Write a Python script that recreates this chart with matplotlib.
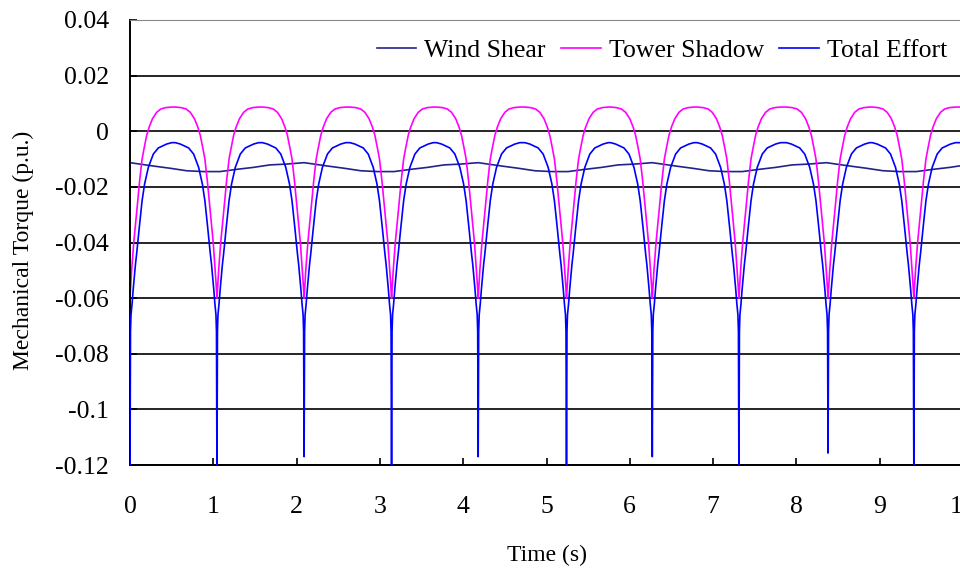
import numpy as np
import matplotlib
matplotlib.use('Agg')
import matplotlib.pyplot as plt

plt.rcParams['font.family'] = ['Liberation Serif', 'DejaVu Serif']

# times of the blade-passing dips (s)
dip_times = [0.0, 1.044, 2.09, 3.14, 4.18, 5.24, 6.27, 7.31, 8.38, 9.41]
# lowest value of the Total Effort spike at each dip
spike_depth = [-0.125, -0.125, -0.117, -0.125, -0.117, -0.125, -0.117, -0.125, -0.1157, -0.125]

# tower shadow: value vs distance from the dip (s)
shadow_off = [0.0, 0.01, 0.02, 0.033, 0.045, 0.058, 0.07, 0.09, 0.115, 0.145, 0.17, 0.20, 0.23,
              0.27, 0.32, 0.37, 0.43, 0.50]
shadow_val = [-0.060, -0.055, -0.050, -0.045, -0.040, -0.036, -0.032, -0.026, -0.018, -0.010,
              -0.006, -0.0015, 0.0015, 0.0045, 0.0068, 0.0080, 0.0085, 0.0087]

# total effort: value vs distance from the dip (spike at 0 comes from spike_depth)
total_off = [0.006, 0.012, 0.025, 0.038, 0.05, 0.065, 0.08, 0.11, 0.145, 0.175, 0.22, 0.28, 0.34,
             0.44, 0.50]
total_val = [-0.072, -0.066, -0.062, -0.057, -0.053, -0.048, -0.044, -0.035, -0.025, -0.019,
             -0.013, -0.0082, -0.006, -0.0046, -0.0041]

# wind shear: one cycle starting at each peak
ws_peaks = [0.0, 2.09, 4.18, 6.27, 8.36]
ws_off = [0.0, 0.28, 0.48, 0.68, 0.88, 1.08, 1.28, 1.48, 1.68, 1.88]
ws_val = [-0.0113, -0.0125, -0.0133, -0.0142, -0.0145, -0.0145, -0.0137, -0.0130, -0.0121, -0.0118]


def around_dips(offs, vals, centre_vals=None):
    t, v = [], []
    offs = np.array(offs)
    vals = np.array(vals)
    for i, d in enumerate(dip_times):
        if centre_vals is None:
            t += list(d - offs[:0:-1]) + list(d + offs)
            v += list(vals[:0:-1]) + list(vals)
        else:
            t += list(d - offs[::-1]) + [d] + list(d + offs)
            v += list(vals[::-1]) + [centre_vals[i]] + list(vals)
    t.append(10.0)
    v.append(vals[-1])
    return np.array(t), np.array(v)


ts_t, ts_v = around_dips(shadow_off, shadow_val)
te_t, te_v = around_dips(total_off, total_val, spike_depth)

ws_t, ws_v = [], []
for p in ws_peaks:
    ws_t += [p + o for o in ws_off]
    ws_v += ws_val

fig = plt.figure(figsize=(9.6, 5.72), dpi=100)
ax = fig.add_axes([130/960, 107/572, 833/960, 445/572])

ax.plot(ws_t, ws_v, color='#22228c', lw=1.2, label='Wind Shear')
ax.plot(ts_t, ts_v, color='#ff00ff', lw=1.2, label='Tower Shadow')
ax.plot(te_t, te_v, color='#0000ff', lw=1.2, label='Total Effort', zorder=3)

ax.set_xlim(0, 10)
ax.set_ylim(-0.12, 0.04)
ax.set_xticks(range(0, 11))
ax.set_yticks(np.arange(-0.12, 0.041, 0.02))
ax.set_yticklabels(['-0.12', '-0.1', '-0.08', '-0.06', '-0.04', '-0.02', '0', '0.02', '0.04'])
ax.yaxis.grid(True, color='black', lw=1.2)
ax.set_axisbelow(True)
ax.tick_params(direction='in', length=5, width=1.2, labelsize=18.5, colors='black')
ax.tick_params(axis='x', pad=22)
ax.tick_params(axis='y', pad=15)
for s in ['left', 'bottom']:
    ax.spines[s].set_linewidth(1.4)
ax.spines['top'].set_color('#888888')
ax.spines['right'].set_visible(False)

ax.set_xlabel('Time (s)', fontsize=17)
ax.set_ylabel('Mechanical Torque (p.u.)', fontsize=17)
ax.xaxis.set_label_coords((547 - 130) / 833, -(545 - 465) / 445)
ax.yaxis.set_label_coords(-(130 - 34) / 833, (465 - 250) / 445)

ax.legend(loc='upper right', bbox_to_anchor=(947/960, 1 - 39/572), bbox_transform=fig.transFigure,
          ncol=3, frameon=False, fontsize=18.5, handlelength=1.55, handletextpad=0.3,
          columnspacing=0.6, borderaxespad=0, borderpad=0)

fig.savefig('out.png', dpi=100)
